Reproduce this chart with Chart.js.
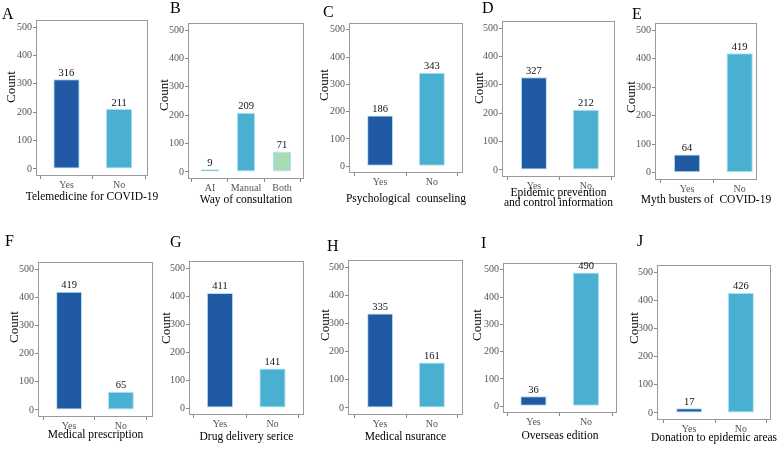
<!DOCTYPE html>
<html><head><meta charset="utf-8">
<script src="https://cdn.jsdelivr.net/npm/chart.js@4.4.1/dist/chart.umd.min.js"></script>
<style>
html,body{margin:0;padding:0;background:#fff;}
#wrap{position:relative;width:777px;height:450px;overflow:hidden;background:#fff;}
#wrap canvas{position:absolute;left:0;top:0;}
</style></head><body><div id="wrap"></div>
<script>
// ---- data ----
const panelLetters = ['A','B','C','D','E','F','G','H','I','J'];
const yesNo = ['Yes','No'];
const consultWays = ['AI','Manual','Both'];
const countsA = [316, 211];
const countsB = [9, 209, 71];
const countsC = [186, 343];
const countsD = [327, 212];
const countsE = [64, 419];
const countsF = [419, 65];
const countsG = [411, 141];
const countsH = [335, 161];
const countsI = [36, 490];
const countsJ = [17, 426];
const xTitles = [
  ['Telemedicine for COVID-19'],
  ['Way of consultation'],
  ['Psychological  counseling'],
  ['Epidemic prevention', 'and control information'],
  ['Myth busters of  COVID-19'],
  ['Medical prescription'],
  ['Drug delivery serice'],
  ['Medical nsurance'],
  ['Overseas edition'],
  ['Donation to epidemic areas']
];
const yTickValues = [0, 100, 200, 300, 400, 500];
const yAxisTitle = 'Count';

const panelCats = [yesNo, consultWays, yesNo, yesNo, yesNo, yesNo, yesNo, yesNo, yesNo, yesNo];
const panelCounts = [countsA, countsB, countsC, countsD, countsE, countsF, countsG, countsH, countsI, countsJ];

// ---- styles / layout ----
const twoColors = ['#215aa4', '#4ab0d2'];
const threeColors = ['#215aa4', '#4ab0d2', '#a6dbb4'];
const layouts = [
  {box:[36,20,148,176],  xr:[0.42,2.55], letter:[2,15],    count:[12,87],   titleY:[197]},
  {box:[188,23,304,179], xr:[0.39,3.61], letter:[170,9],   count:[165,95],  titleY:[200]},
  {box:[349,23,463,173], xr:[0.40,2.60], letter:[323,13],  count:[325,85],  titleY:[199]},
  {box:[502,21,615,177], xr:[0.385,2.56],letter:[482,9],   count:[480,88],  titleY:[193,203]},
  {box:[655,23,757,180], xr:[0.39,2.33], letter:[632,15],  count:[632,97],  titleY:[200]},
  {box:[38,262,153,417], xr:[0.40,2.62], letter:[5,242],   count:[15,327],  titleY:[435]},
  {box:[189,261,304,415],xr:[0.41,2.60], letter:[170,243], count:[167,328], titleY:[437]},
  {box:[348,260,463,415],xr:[0.38,2.60], letter:[327,247], count:[326,325], titleY:[437]},
  {box:[503,263,617,413],xr:[0.42,2.59], letter:[481,244], count:[478,325], titleY:[436]},
  {box:[657,265,771,420],xr:[0.38,2.58], letter:[637,242], count:[635,328], titleY:[438]}
];
const W = 777, H = 450, YW = 30, XH = 20;
const SERIF = '"Liberation Serif", "Times New Roman", serif';

const wrap = document.getElementById('wrap');

panelCounts.forEach((counts, p) => {
  const cats = panelCats[p];
  const lay = layouts[p];
  const [L, T, R, B] = lay.box;
  const cv = document.createElement('canvas');
  cv.width = W; cv.height = H;
  cv.style.width = W + 'px'; cv.style.height = H + 'px';
  wrap.appendChild(cv);

  const decor = {
    id: 'decor' + p,
    afterDraw(chart) {
      const ctx = chart.ctx;
      const ca = chart.chartArea;
      ctx.save();
      // panel border
      ctx.strokeStyle = '#9a9a9a';
      ctx.lineWidth = 1;
      ctx.strokeRect(Math.round(ca.left) + 0.5, Math.round(ca.top) + 0.5,
                     Math.round(ca.right - ca.left) - 1, Math.round(ca.bottom - ca.top) - 1);
      // value labels
      const meta = chart.getDatasetMeta(0);
      ctx.fillStyle = '#111';
      ctx.font = '10.5px ' + SERIF;
      ctx.textAlign = 'center';
      ctx.textBaseline = 'bottom';
      meta.data.forEach((bar, i) => {
        ctx.fillText(String(counts[i]), bar.x, bar.y - 1);
      });
      // panel letter
      ctx.font = '16px ' + SERIF;
      ctx.textAlign = 'left';
      ctx.textBaseline = 'middle';
      ctx.fillStyle = '#000';
      ctx.fillText(panelLetters[p], lay.letter[0], lay.letter[1]);
      // y title
      ctx.save();
      ctx.translate(lay.count[0], lay.count[1]);
      ctx.rotate(-Math.PI / 2);
      ctx.font = '13px ' + SERIF;
      ctx.textAlign = 'center';
      ctx.textBaseline = 'middle';
      ctx.fillText(yAxisTitle, 0, 0);
      ctx.restore();
      // x title
      ctx.font = '11.5px ' + SERIF;
      ctx.textAlign = 'center';
      ctx.textBaseline = 'middle';
      const cx = (ca.left + ca.right) / 2;
      xTitles[p].forEach((line, k) => ctx.fillText(line, cx, lay.titleY[k]));
      ctx.restore();
    }
  };

  new Chart(cv, {
    type: 'bar',
    data: {
      datasets: [{
        data: counts.map((v, i) => ({x: i + 1, y: v})),
        backgroundColor: cats.length === 3 ? threeColors : twoColors,
        borderColor: 'rgba(170,222,242,0.95)',
        borderWidth: 1,
        borderSkipped: false,
        categoryPercentage: 0.5,
        barPercentage: 1
      }]
    },
    options: {
      responsive: false,
      animation: false,
      devicePixelRatio: 1,
      layout: {padding: {left: L - YW, top: T, right: W - R, bottom: H - B - XH}},
      plugins: {legend: {display: false}, tooltip: {enabled: false}, title: {display: false}},
      scales: {
        x: {
          type: 'linear',
          min: lay.xr[0], max: lay.xr[1],
          offset: false,
          afterBuildTicks: s => { s.ticks = cats.map((c, i) => ({value: i + 1})); },
          afterFit: s => { s.height = XH; },
          ticks: {
            callback: v => cats[Math.round(v) - 1] || '',
            font: {family: SERIF, size: 10},
            color: '#555',
            padding: 0,
            maxRotation: 0,
            autoSkip: false
          },
          grid: {drawOnChartArea: false, drawTicks: true, tickLength: 3, color: '#888'},
          border: {display: false}
        },
        y: {
          min: -25, max: 525,
          afterBuildTicks: s => { s.ticks = yTickValues.map(v => ({value: v})); },
          afterFit: s => { s.width = YW; },
          ticks: {
            font: {family: SERIF, size: 10},
            color: '#555',
            padding: 1
          },
          grid: {drawOnChartArea: false, drawTicks: true, tickLength: 3, color: '#888'},
          border: {display: false}
        }
      }
    },
    plugins: [decor]
  });
});
</script>
</body></html>
